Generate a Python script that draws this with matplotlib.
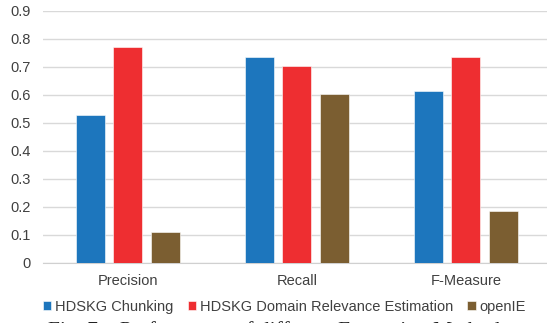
import matplotlib.pyplot as plt
import numpy as np

plt.rcParams['font.family'] = ['Liberation Sans', 'DejaVu Sans']

categories = ['Precision', 'Recall', 'F-Measure']
chunking = [0.527, 0.735, 0.614]
domain_rel = [0.770, 0.702, 0.735]
openie = [0.110, 0.602, 0.185]
series_names = ['HDSKG Chunking', 'HDSKG Domain Relevance Estimation', 'openIE']
colors = ['#1d76bd', '#ee2e31', '#7b5e31']
yticks = [0, 0.1, 0.2, 0.3, 0.4, 0.5, 0.6, 0.7, 0.8, 0.9]

fig = plt.figure(figsize=(5.47, 3.23), dpi=100)
ax = fig.add_axes([0.0792, 0.1858, 0.9208, 0.966 - 0.1858])

x = np.arange(len(categories))
w = 0.173
step = 0.221
for i, (vals, name, c) in enumerate(zip([chunking, domain_rel, openie], series_names, colors)):
    ax.bar(x + (i - 1) * step, vals, w, color=c, label=name, zorder=3,
           edgecolor='white', linewidth=0.4)

ax.set_xlim(-0.5, 2.48)
ax.set_ylim(0, 0.9)
ax.set_yticks(yticks)
ax.set_yticklabels(['0' if v == 0 else f'{v:.1f}' for v in yticks])
ax.set_xticks(x)
ax.set_xticklabels(categories)
ax.yaxis.grid(True, color='#d9d9d9', linewidth=1, zorder=0)
ax.set_axisbelow(True)
for s in ['top', 'right', 'left']:
    ax.spines[s].set_visible(False)
ax.spines['bottom'].set_color('#d0d0d0')
ax.tick_params(axis='both', length=0, labelsize=10.5, colors='#404040')
ax.tick_params(axis='y', pad=9)
ax.tick_params(axis='x', pad=8)

fig.legend(loc='center', bbox_to_anchor=(0.52, 1 - 306.7 / 323), ncol=3, frameon=False,
           fontsize=10.5, handlelength=0.55, handleheight=0.55, handletextpad=0.25,
           columnspacing=1.0, labelcolor='#404040', borderpad=0)

# caption of the figure, cut off by the image edge as in the source
fig.text(48 / 547, 1 - 336 / 323, 'Fig. 7:   Performance of different Extraction Methods',
         family='Liberation Serif', fontsize=15.5, va='baseline', ha='left', color='#222222')

fig.savefig('out.png', dpi=100)
